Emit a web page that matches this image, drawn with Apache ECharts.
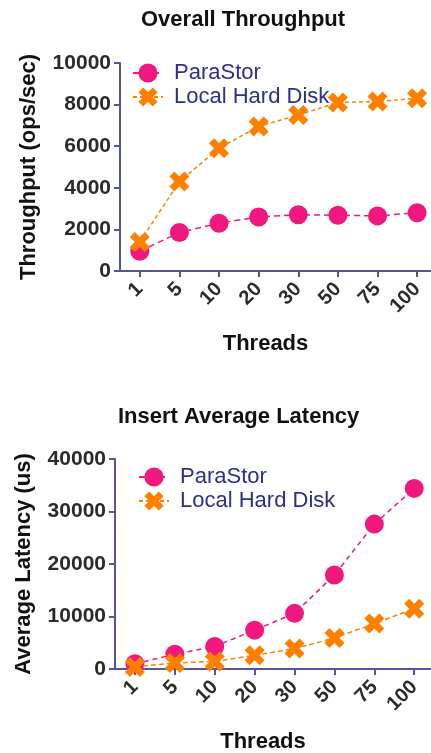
<!DOCTYPE html>
<html>
<head>
<meta charset="utf-8">
<script src="https://cdn.jsdelivr.net/npm/echarts@6/dist/echarts.min.js"></script>
<style>
  html, body { margin: 0; padding: 0; background: #fff; }
  #main { width: 431px; height: 753px; }
</style>
</head>
<body>
<div id="main"></div>
<script>
"use strict";
// thread counts on the x axis (same for both panels)
var threads = ["1", "5", "10", "20", "30", "50", "75", "100"];

// Overall Throughput (ops/sec)
var parastorThroughput = [950, 1850, 2300, 2600, 2700, 2680, 2650, 2800];
var localThroughput = [1400, 4300, 5900, 6950, 7500, 8100, 8150, 8300];

// Insert Average Latency (us)
var parastorLatency = [1000, 2800, 4300, 7400, 10600, 17900, 27600, 34400];
var localLatency = [400, 1150, 1450, 2600, 3900, 5900, 8650, 11500];

var pink = "#f0187f";
var orange = "#ff8000";
var axisColor = "#55559a";
var xMark = "path://M0,2.5L2.5,0L5,2.5L7.5,0L10,2.5L7.5,5L10,7.5L7.5,10L5,7.5L2.5,10L0,7.5L2.5,5Z";

var tickIdx = threads.map(function (t, i) { return i; });

function pairs(arr) {
    return arr.map(function (v, i) { return [i, v]; });
}

function xAxisCfg(gridIndex, max) {
    return {
        type: "value", gridIndex: gridIndex, min: -0.5, max: max,
        name: "Threads", nameLocation: "middle", nameGap: 62,
        nameTextStyle: { fontSize: 22, fontWeight: "bold", color: "#111", fontFamily: "Liberation Sans", padding: [0, 20, 0, 0] },
        splitLine: { show: false },
        axisLine: { show: true, onZero: false, lineStyle: { color: axisColor, width: 2 } },
        axisTick: { show: true, length: 6, customValues: tickIdx, lineStyle: { color: axisColor, width: 2 } },
        axisLabel: {
            customValues: tickIdx, rotate: 45, margin: 15,
            fontSize: 20, fontWeight: "bold", color: "#2b2b2b", fontFamily: "Liberation Sans",
            formatter: function (v) { return threads[v]; }
        }
    };
}

function yAxisCfg(gridIndex, name, max, interval, gap) {
    return {
        type: "value", gridIndex: gridIndex, min: 0, max: max, interval: interval,
        name: name, nameLocation: "middle", nameGap: gap,
        nameTextStyle: { fontSize: 22, fontWeight: "bold", color: "#111", fontFamily: "Liberation Sans" },
        splitLine: { show: false },
        axisLine: { show: true, onZero: false, lineStyle: { color: axisColor, width: 2 } },
        axisTick: { show: true, length: 6, lineStyle: { color: axisColor, width: 2 } },
        axisLabel: {
            margin: 9, fontSize: 21, fontWeight: "bold", color: "#2b2b2b", fontFamily: "Liberation Sans",
            formatter: function (v) { return String(v); }
        }
    };
}

function lineSeries(name, data, idx, symbol, size, color, dash) {
    return {
        name: name, type: "line", xAxisIndex: idx, yAxisIndex: idx,
        data: pairs(data), symbol: symbol, symbolSize: size,
        itemStyle: { color: color },
        lineStyle: { color: color, width: 1.5, type: dash },
        z: symbol === "circle" ? 3 : 4
    };
}

var legendText = { fontSize: 22, color: "#2e2e8c", fontFamily: "Liberation Sans", padding: [0, 0, 0, 6] };

var chart = echarts.init(document.getElementById("main"));
chart.setOption({
    animation: false,
    title: [
        { text: "Overall Throughput", left: 136, top: 4,
          textStyle: { fontSize: 22, fontWeight: "bold", color: "#111", fontFamily: "Liberation Sans" } },
        { text: "Insert Average Latency", left: 113, top: 401,
          textStyle: { fontSize: 22, fontWeight: "bold", color: "#111", fontFamily: "Liberation Sans" } }
    ],
    legend: [
        { orient: "vertical", left: 132, top: 62, padding: 0, itemWidth: 30, itemHeight: 24, itemGap: 2,
          textStyle: legendText, data: ["ParaStor", "Local Hard Disk"] },
        { orient: "vertical", left: 138, top: 466, padding: 0, itemWidth: 30, itemHeight: 24, itemGap: 2,
          textStyle: legendText, data: ["ParaStor", "Local Hard Disk"] }
    ],
    grid: [
        { left: 120, right: 0, top: 63, height: 208, outerBoundsMode: "none" },
        { left: 115, right: 0, top: 459, height: 210, outerBoundsMode: "none" }
    ],
    xAxis: [xAxisCfg(0, 7.35), xAxisCfg(1, 7.42)],
    yAxis: [
        yAxisCfg(0, "Throughput (ops/sec)", 10000, 2000, 80),
        yAxisCfg(1, "Average Latency (us)", 40000, 10000, 80)
    ],
    series: [
        lineSeries("ParaStor", parastorThroughput, 0, "circle", 19, pink, [6, 4]),
        lineSeries("Local Hard Disk", localThroughput, 0, xMark, 20, orange, [4, 3]),
        lineSeries("ParaStor", parastorLatency, 1, "circle", 19, pink, [5, 4]),
        lineSeries("Local Hard Disk", localLatency, 1, xMark, 20, orange, [5, 3])
    ]
});
</script>
</body>
</html>
